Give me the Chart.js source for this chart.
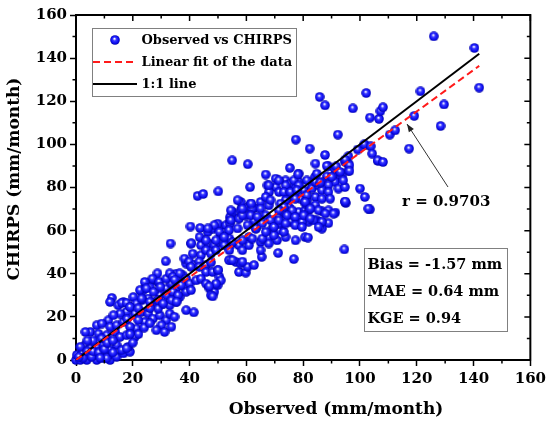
<!DOCTYPE html>
<html>
<head>
<meta charset="utf-8">
<script src="https://cdn.jsdelivr.net/npm/chart.js@4.4.0/dist/chart.umd.min.js"></script>
<style>
  html, body { margin: 0; padding: 0; background: #fff; }
</style>
</head>
<body>
<canvas id="chart" width="550" height="426"></canvas>
<script>
// observed monthly rainfall (mm/month)
const obsX = [
  0, 1.5, 3.8, 7.3, 9.7, 12, 0.3, 2.1, 4.4, 6.7,
  9.1, 11.4, 14.3, 16.7, 19, 3.3, 1.5, 5, 7.3, 9.7,
  12, 14.3, 16.1, 18.4, 10.8, 17.8, 7.3, 5, 7.9, 10.8,
  13.8, 15.5, 17.8, 21.3, 20.7, 11.4, 9.1, 12, 14.3, 16.7,
  19, 3.3, 20.7, 23.1, 25.4, 27.1, 24.2, 21.9, 29.5, 31.8,
  30.1, 33, 34.7, 28.3, 31.2, 33.6, 16.7, 14.9, 17.8, 15.5,
  13.2, 12.6, 12, 16.1, 17.8, 25.4, 23.1, 20.2, 21.3, 19,
  29.5, 27.7, 30.6, 28.9, 33, 35.3, 31.8, 35.3, 38.2, 33,
  36.5, 38.8, 33, 35.3, 36.5, 33.6, 37.6, 27.1, 28.9, 26,
  24.2, 23.1, 31.6, 38.8, 38.8, 41.5, 2.5, 4, 5.5, 1,
  6, 8, 8.5, 13, 10, 20, 22, 24, 19, 26,
  18, 22, 26, 6, 9, 11, 13, 4,
  40.3, 43.7, 46.4, 48.1, 50.5, 49.9, 52.8, 33.3, 40.5, 44.6,
  44, 46.9, 48.7, 51, 52.8, 54, 55.1, 57.4, 58.6, 60.9,
  60.9, 41.1, 44, 45.8, 47.5, 49.3, 50.5, 52.2, 54, 38.2,
  39.9, 41.7, 43.4, 40.5, 43.4, 45.8, 47.5, 45.8, 48.1, 49.9,
  50.5, 57.4, 59.8, 54.5, 56.3, 58, 60.4, 62.7, 28.7, 26.9,
  29.3, 24.2, 31.8, 33, 34.1, 36.5, 34.7, 38.8, 40, 37,
  40.5, 42.3, 44, 45.8, 47, 48.7, 47.5, 49.9, 51, 22.5,
  24.8, 27.3, 29.7, 32, 34.1, 35.9, 23.1, 26, 28.9, 30.7,
  33.6, 35.4, 54.2, 54.2, 54.2, 57.4, 59.8, 62.7, 63.3, 58.6,
  60.6, 62.7, 48.1, 49.3, 46.9, 50.1, 53.9, 55.1, 58.6, 40.6,
  70.3, 73.8, 75.5, 78.4, 81.3, 84.2, 67.4, 70.3, 68, 71.5,
  74.4, 77.3, 80.2, 83.1, 74.4, 76.7, 79, 81.4, 84.3, 61.5,
  65, 62, 65, 67.9, 58, 58, 55.1, 54.5, 57.4, 58.6,
  61.5, 63.9, 66.8, 68.5, 71.4, 73.2, 75.5, 78.4, 80.7, 83.6,
  72.6, 75.5, 78.4, 81.9, 60.4, 63.3, 65.6, 69.1, 71.4, 48.7,
  50.5, 46.4, 53.9, 56.9, 43.5, 45.8, 49.3, 52.2, 55.1, 58.6,
  62.1, 65, 67.9, 70.8, 73.8, 77.3, 80.7, 84.8, 78.4,
  94.5, 81.7, 76.7, 71.2, 65.4, 65, 103.5, 95, 91.3, 85.8,
  88.9, 86.6, 86.6, 81.9, 83.7, 79.6, 71.4, 73.2, 69.7, 67.9,
  65.6, 66.8, 69.7, 74.9, 80.8, 84.3, 88.9,
  88.9, 95.9, 95.9, 93.6, 91.2, 90.6, 91.2, 88.3, 86.6, 88.9,
  92.4, 94.7, 94.1, 76.7, 78.4, 73.8, 73.2, 75.5, 77.8, 83.1,
  85.4, 84.3, 86.6, 88.9, 81.3, 86.6, 89.5, 80.7, 77.2, 73.8,
  72, 94.7, 82.5, 85.4, 87.8, 90.7, 76.1, 74.3, 77.2, 80.2,
  82.5, 86.6, 85.4, 71.4, 73.8, 77.2, 79.6, 71.4, 73.2, 71.4,
  101.9, 106.4, 95.9, 94.7,
  55, 60.5, 61.3, 66.8, 42.8, 44.8, 50.1, 56.9, 61.7, 66.8,
  54.5, 58.6, 67.9, 68.5, 126, 140.3, 142, 121.3, 129.6, 119.1,
  128.4, 85.8, 87.7, 102.2, 97.5, 103.5, 106.7, 107.2, 108.1, 110.5,
  112.4, 117.3, 77.4, 92.2, 82.3, 87.7, 84.3, 75.3, 78.2, 88.3,
  99.2, 101.5, 103.8, 104.3, 106.2, 108.1, 91.6, 94.8, 96.3, 96.3,
  93, 100, 101.7, 102.9, 94.8, 84.8, 86, 90
];

// CHIRPS estimate for the same months (mm/month)
const chirpsY = [
  0, 0, 0, 0, 0.8, 0, 2.3, 3.1, 2.3, 2.3,
  3.1, 2.3, 1.5, 3.1, 3.8, 6.9, 6.1, 5.4, 6.1, 6.9,
  4.6, 6.9, 4.6, 6.1, 0.8, 5.4, 16.1, 13, 12.2, 11.5,
  13, 10.7, 11.5, 14.6, 10.7, 18.4, 16.9, 15.4, 16.1, 17.7,
  15.4, 13, 21.5, 22.3, 21.5, 19.2, 17.7, 18.5, 20.7, 18.4,
  16.1, 21.5, 20, 13.8, 13, 15.4, 26.9, 25.4, 22.3, 21.5,
  20.8, 28.8, 26.9, 26.5, 26.5, 28.5, 27.7, 29.2, 26.2, 24.6,
  30, 27, 26.2, 23.8, 25.4, 27, 33.1, 33.1, 33.9, 30,
  29.2, 31.6, 38.5, 40, 37.8, 35.4, 39.3, 36.9, 36.2, 33.8,
  33.1, 31.6, 45.8, 44.7, 23.1, 22.1, 1, 4, 1.5, 1.5,
  4, 3.5, 1, 3.5, 5, 8, 12, 15, 12, 17,
  19, 24, 24, 9, 10, 8, 9, 9,
  61.9, 61.2, 59.4, 60.9, 61.7, 63.2, 62.5, 54, 54, 55.5,
  53.2, 54, 53.2, 57.8, 57.8, 56.3, 54, 53.2, 50.9, 57,
  53.2, 49.3, 48.6, 50.9, 49.3, 50.9, 54.7, 53.2, 50.9, 47,
  45.6, 44, 45.6, 43.2, 43.2, 44, 45.2, 40.8, 40.8, 41.6,
  38.5, 40.8, 40.5, 46.2, 45.5, 44.7, 43.2, 44, 40.2, 37.7,
  36.2, 36.2, 37.7, 40.2, 38.6, 40.2, 37.2, 37.7, 35.4, 34.7,
  32.4, 36.9, 37.7, 35.4, 33.2, 31.6, 30, 34.7, 36.9, 32.4,
  33.2, 31.6, 33.9, 30, 31.6, 30, 28.5, 27, 27.7, 26.2,
  27.7, 27, 66.2, 64.6, 63.2, 66, 67, 64.5, 60.9, 70.5,
  71, 70.5, 29.5, 35.4, 34.2, 41.7, 46.3, 46.3, 45.6, 54.1,
  84.1, 83.3, 81.8, 82.6, 83.3, 84.9, 81, 80.2, 77.9, 77.9,
  78.7, 79.5, 78.7, 80.2, 74.8, 76.4, 74.8, 74, 75.6, 72.5,
  73.3, 70.2, 70.2, 71.7, 73.3, 69.4, 68.7, 64.8, 65.6, 67.1,
  67.1, 66.4, 67.1, 64.8, 66.4, 68.7, 69.4, 68.7, 69.4, 71,
  63.3, 64.1, 63.3, 64.1, 62.5, 61, 63.3, 61, 60.2, 62.5,
  59.4, 61, 60.2, 61, 57, 55.5, 55.5, 57, 54.7, 55.5,
  56.3, 54.7, 57, 55.5, 57, 55.5, 57, 64.8, 86.4,
  51.3, 56.8, 46.8, 49.6, 47.8, 50.9, 69.8, 72.8, 68.4, 64,
  63.5, 60.9, 69, 69.4, 64.8, 64, 63.3, 59.4, 57.8, 54,
  56.3, 59.4, 61.7, 71, 72.5, 71.8, 69.4,
  89.8, 91.1, 87.8, 85.2, 88.4, 85.2, 82.6, 85.2, 82.6, 81.1,
  79.5, 80.2, 83.3, 83.3, 81, 81, 77.9, 77.9, 78.7, 79.5,
  81, 82.6, 78.7, 77.9, 76.4, 74.8, 74.8, 73.3, 74.8, 74.1,
  72.5, 73.3, 70.2, 69.4, 67.9, 67.9, 69.4, 67.1, 66.3, 67.1,
  65.6, 64.1, 61.7, 64.8, 63.3, 62.5, 61.7, 83.3, 71, 69.4,
  99.6, 92.3, 94.5, 91.9,
  92.6, 90.8, 80.2, 86, 76.1, 77, 78.2, 74.1, 72.5, 75.6,
  69.4, 70.2, 81, 74.1, 150.1, 144.7, 126.3, 124.6, 118.5, 113.2,
  108.5, 122, 118.1, 123.8, 116.7, 112.4, 111.8, 115.4, 117.2, 104.5,
  106.5, 98, 102.2, 104.5, 98, 95.1, 91.1, 89.1, 86.1, 90,
  97.6, 100, 99.1, 95.7, 92.6, 91.8, 89.8, 92.9, 90.3, 87.7,
  87.2, 79.5, 75.6, 70.2, 73.5, 86.4, 82.3, 84.9
];

const oneToOneX = [0, 142];
const oneToOneY = [0, 142];
const fitX = [0, 142];
const fitY = [0, 136.4];

const xTicks = [0, 20, 40, 60, 80, 100, 120, 140, 160];
const yTicks = [0, 20, 40, 60, 80, 100, 120, 140, 160];
const minorTicks = [10, 30, 50, 70, 90, 110, 130, 150];

const legendLabels = ['Observed vs CHIRPS', 'Linear fit of the data', '1:1 line'];
const statLines = ['Bias = -1.57 mm', 'MAE = 0.64 mm', 'KGE = 0.94'];
const rLabel = 'r = 0.9703';
const xTitle = 'Observed (mm/month)';
const yTitle = 'CHIRPS (mm/month)';

const FONT = '"DejaVu Serif", serif';

// shaded blue sphere used as the marker
function makeBall(size) {
  const c = document.createElement('canvas');
  c.width = size; c.height = size;
  const g = c.getContext('2d');
  const r = size / 2;
  const grad = g.createRadialGradient(r - 0.6, r - 1.4, 0.1, r, r, r);
  grad.addColorStop(0, '#ffffff');
  grad.addColorStop(0.14, '#c4c4ff');
  grad.addColorStop(0.34, '#3a3aff');
  grad.addColorStop(0.72, '#0c0cf2');
  grad.addColorStop(1, '#00009c');
  g.fillStyle = grad;
  g.beginPath();
  g.arc(r, r, r - 0.2, 0, Math.PI * 2);
  g.fill();
  return c;
}
const ball = makeBall(10);

const toPoints = (xs, ys) => xs.map((v, i) => ({ x: v, y: ys[i] }));

const overlay = {
  id: 'overlay',
  afterDraw(chart) {
    const { ctx, chartArea: a, scales: { x, y } } = chart;
    ctx.save();

    // top and right frame
    ctx.strokeStyle = '#000';
    ctx.lineWidth = 2;
    ctx.beginPath();
    ctx.moveTo(a.left - 1, a.top);
    ctx.lineTo(a.right, a.top);
    ctx.lineTo(a.right, a.bottom + 1);
    ctx.stroke();

    // minor ticks outside, mirrored ticks inside
    ctx.lineWidth = 1.5;
    ctx.beginPath();
    minorTicks.forEach(v => {
      const px = x.getPixelForValue(v), py = y.getPixelForValue(v);
      ctx.moveTo(px, a.bottom); ctx.lineTo(px, a.bottom + 3.5);
      ctx.moveTo(a.left, py); ctx.lineTo(a.left - 3.5, py);
      ctx.moveTo(px, a.top); ctx.lineTo(px, a.top + 3.5);
      ctx.moveTo(a.right, py); ctx.lineTo(a.right - 3.5, py);
    });
    xTicks.forEach(v => {
      const px = x.getPixelForValue(v);
      ctx.moveTo(px, a.top); ctx.lineTo(px, a.top + 6);
    });
    yTicks.forEach(v => {
      const py = y.getPixelForValue(v);
      ctx.moveTo(a.right, py); ctx.lineTo(a.right - 6, py);
    });
    ctx.stroke();

    // legend
    ctx.lineWidth = 1;
    ctx.strokeStyle = '#808080';
    ctx.strokeRect(92.5, 28.5, 204, 68);
    ctx.drawImage(ball, 115 - 5, 40 - 5);
    ctx.lineWidth = 2;
    ctx.strokeStyle = '#ff1a1a';
    ctx.setLineDash([7, 4]);
    ctx.beginPath(); ctx.moveTo(93, 62); ctx.lineTo(137, 62); ctx.stroke();
    ctx.setLineDash([]);
    ctx.strokeStyle = '#000';
    ctx.beginPath(); ctx.moveTo(93, 84); ctx.lineTo(137, 84); ctx.stroke();
    ctx.fillStyle = '#000';
    ctx.font = 'bold 13px ' + FONT;
    ctx.textAlign = 'left';
    ctx.textBaseline = 'middle';
    legendLabels.forEach((t, i) => ctx.fillText(t, 141.5, 41 + i * 22));

    // statistics box
    ctx.lineWidth = 1;
    ctx.strokeStyle = '#808080';
    ctx.strokeRect(364.5, 248.5, 143, 83);
    ctx.font = 'bold 14.5px ' + FONT;
    statLines.forEach((t, i) => ctx.fillText(t, 367.5, 265 + i * 27));

    // correlation label and arrow
    ctx.font = 'bold 15px ' + FONT;
    ctx.fillText(rLabel, 402, 202);
    const x0 = 448, y0 = 187, x1 = 407, y1 = 124;
    ctx.strokeStyle = '#333';
    ctx.lineWidth = 1;
    ctx.beginPath(); ctx.moveTo(x0, y0); ctx.lineTo(x1, y1); ctx.stroke();
    const ang = Math.atan2(y1 - y0, x1 - x0);
    ctx.fillStyle = '#222';
    ctx.beginPath();
    ctx.moveTo(x1, y1);
    ctx.lineTo(x1 - 8 * Math.cos(ang) + 3 * Math.sin(ang), y1 - 8 * Math.sin(ang) - 3 * Math.cos(ang));
    ctx.lineTo(x1 - 8 * Math.cos(ang) - 3 * Math.sin(ang), y1 - 8 * Math.sin(ang) + 3 * Math.cos(ang));
    ctx.closePath();
    ctx.fill();

    // axis titles
    ctx.fillStyle = '#000';
    ctx.font = 'bold 17px ' + FONT;
    ctx.textAlign = 'center';
    ctx.fillText(xTitle, 336, 410);
    ctx.translate(15, 179);
    ctx.rotate(-Math.PI / 2);
    ctx.fillText(yTitle, 0, 0);

    ctx.restore();
  }
};

const tickFont = { family: FONT, weight: 'bold', size: 15 };

new Chart(document.getElementById('chart'), {
  type: 'scatter',
  data: {
    datasets: [
      {
        label: legendLabels[0],
        data: toPoints(obsX, chirpsY),
        pointStyle: ball,
        pointRadius: 5,
        clip: false,
        order: 2
      },
      {
        type: 'line',
        label: legendLabels[2],
        data: toPoints(oneToOneX, oneToOneY),
        borderColor: '#000',
        borderWidth: 2,
        pointRadius: 0,
        order: 1
      },
      {
        type: 'line',
        label: legendLabels[1],
        data: toPoints(fitX, fitY),
        borderColor: '#ff1a1a',
        borderWidth: 2,
        borderDash: [7, 4],
        pointRadius: 0,
        order: 0
      }
    ]
  },
  options: {
    responsive: false,
    animation: false,
    layout: { padding: { top: 15, right: 17, left: 0, bottom: 0 } },
    plugins: {
      legend: { display: false },
      tooltip: { enabled: false }
    },
    scales: {
      x: {
        type: 'linear',
        min: 0,
        max: 160,
        afterBuildTicks: s => { s.ticks = xTicks.map(v => ({ value: v })); },
        afterFit: s => { s.height = 66; },
        ticks: { font: tickFont, color: '#000', padding: 4, maxRotation: 0 },
        grid: { drawOnChartArea: false, drawTicks: true, tickLength: 6, tickWidth: 1.5, tickColor: '#000' },
        border: { display: true, color: '#000', width: 2 }
      },
      y: {
        type: 'linear',
        min: 0,
        max: 160,
        afterBuildTicks: s => { s.ticks = yTicks.map(v => ({ value: v })); },
        afterFit: s => { s.width = 76; },
        ticks: { font: tickFont, color: '#000', padding: 3 },
        grid: { drawOnChartArea: false, drawTicks: true, tickLength: 6, tickWidth: 1.5, tickColor: '#000' },
        border: { display: true, color: '#000', width: 2 }
      }
    }
  },
  plugins: [overlay]
});
</script>
</body>
</html>
